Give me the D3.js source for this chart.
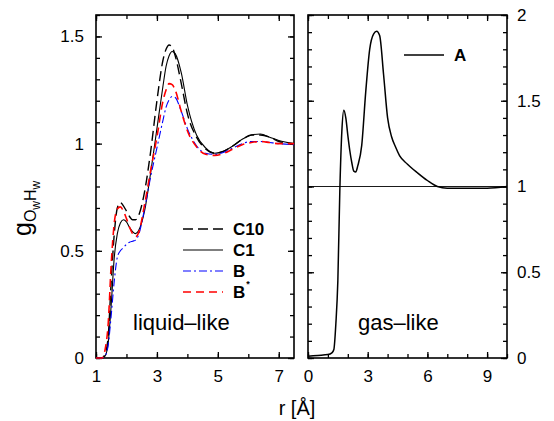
<!DOCTYPE html>
<html>
<head>
<meta charset="utf-8">
<script src="https://cdn.jsdelivr.net/npm/d3@7"></script>
<style>
  body { margin: 0; background: #fff; }
  svg text { font-family: "Liberation Sans", Arial, sans-serif; fill: #000; }
</style>
</head>
<body>
<div id="chart"></div>
<script>
// left panel: shared r grid and series
const rLiquid = [1.0, 1.2, 1.3, 1.4, 1.5, 1.6, 1.7, 1.8, 1.9, 2.0, 2.1, 2.2, 2.3, 2.4, 2.6, 2.8, 3.0, 3.2, 3.3, 3.4,
  3.5, 3.6, 3.8, 4.0, 4.3, 4.6, 4.9, 5.2, 5.5, 5.8, 6.1, 6.4, 6.7, 7.0, 7.5];
const gC10 = [0, 0, 0.02, 0.10, 0.36, 0.58, 0.70, 0.725, 0.71, 0.685, 0.66, 0.645, 0.645, 0.665, 0.78, 0.97, 1.20, 1.39, 1.44, 1.46,
  1.45, 1.41, 1.28, 1.14, 1.03, 0.975, 0.955, 0.965, 0.99, 1.02, 1.04, 1.04, 1.03, 1.01, 1.0];
const gC1 = [0, 0, 0.01, 0.07, 0.25, 0.47, 0.58, 0.63, 0.645, 0.635, 0.61, 0.59, 0.58, 0.595, 0.69, 0.87, 1.07, 1.27, 1.36, 1.41,
  1.43, 1.42, 1.33, 1.18, 1.04, 0.98, 0.955, 0.965, 0.99, 1.02, 1.04, 1.045, 1.03, 1.015, 1.0];
const gB = [0, 0, 0.01, 0.06, 0.20, 0.36, 0.47, 0.50, 0.515, 0.53, 0.54, 0.545, 0.55, 0.575, 0.70, 0.85, 0.98, 1.11, 1.17, 1.205,
  1.22, 1.215, 1.15, 1.07, 0.99, 0.955, 0.95, 0.96, 0.98, 1.0, 1.01, 1.01, 1.005, 1.0, 0.995];
const gBstar = [0, 0, 0.04, 0.16, 0.44, 0.63, 0.695, 0.705, 0.685, 0.65, 0.61, 0.58, 0.565, 0.585, 0.72, 0.88, 1.03, 1.20, 1.25, 1.28,
  1.275, 1.25, 1.15, 1.06, 0.985, 0.95, 0.945, 0.955, 0.975, 0.995, 1.005, 1.01, 1.005, 1.0, 1.0];

// right panel
const rGas = [0, 0.5, 1.0, 1.2, 1.3, 1.4, 1.5, 1.6, 1.7, 1.8, 1.9, 2.0, 2.1, 2.2, 2.3, 2.4, 2.5, 2.7, 2.9, 3.1,
  3.3, 3.45, 3.6, 3.8, 4.0, 4.2, 4.4, 4.6, 5.0, 5.5, 6.0, 6.5, 7.0, 8.0, 9.0, 10];
const gA = [0.01, 0.015, 0.02, 0.03, 0.05, 0.20, 0.45, 0.98, 1.32, 1.445, 1.40, 1.30, 1.21, 1.14, 1.09, 1.085, 1.12, 1.24, 1.55, 1.80,
  1.89, 1.905, 1.88, 1.65, 1.40, 1.29, 1.23, 1.18, 1.13, 1.08, 1.035, 1.0, 0.99, 0.99, 0.99, 1.0];

const xTicksL = [1, 3, 5, 7];
const yTicksL = [0, 0.5, 1, 1.5];
const xTicksR = [0, 3, 6, 9];
const yTicksR = [0, 0.5, 1, 1.5, 2];

const liquidSeries = [
  { name: "C10", g: gC10, color: "#000", dash: "10,5", width: 1.4 },
  { name: "C1", g: gC1, color: "#000", dash: null, width: 1.1 },
  { name: "B", g: gB, color: "#0000ff", dash: "8,3,2,3", width: 1.1 },
  { name: "B", sup: "*", g: gBstar, color: "#ff0000", dash: "8,5", width: 1.6 }
];

const W = 554, H = 421;
const svg = d3.select("#chart").append("svg").attr("width", W).attr("height", H);

const xL = d3.scaleLinear().domain([1, 7.5]).range([96, 294]);
const yL = d3.scaleLinear().domain([0, 1.6]).range([358, 15]);
const xR = d3.scaleLinear().domain([0, 10]).range([308, 507]);
const yR = d3.scaleLinear().domain([0, 2]).range([358, 15]);

// draws inward ticks on all four sides of a panel
function frame(x, y, xMajor, yMajor, yLabelsRight) {
  const [x0, x1] = x.range(), [y0, y1] = y.range();
  const xMinor = d3.range(Math.ceil(x.domain()[0]), x.domain()[1] + 1e-9, 1);
  const yMinor = d3.range(0, y.domain()[1] + 1e-9, 0.1);
  const fmt = d => String(d);

  const ax = (axis, tr) => svg.append("g").attr("transform", tr).call(axis)
    .call(g => g.select(".domain").remove())
    .call(g => g.selectAll("line").attr("stroke", "#000").attr("stroke-width", 1.3))
    .call(g => g.selectAll("text").style("font-size", "17px").attr("fill", "#000"));

  // minor
  ax(d3.axisBottom(x).tickValues(xMinor).tickSize(-4).tickFormat(""), `translate(0,${y0})`);
  ax(d3.axisTop(x).tickValues(xMinor).tickSize(-4).tickFormat(""), `translate(0,${y1})`);
  ax(d3.axisLeft(y).tickValues(yMinor).tickSize(-4).tickFormat(""), `translate(${x0},0)`);
  ax(d3.axisRight(y).tickValues(yMinor).tickSize(-4).tickFormat(""), `translate(${x1},0)`);
  // major
  ax(d3.axisBottom(x).tickValues(xMajor).tickSize(-6).tickPadding(12).tickFormat(fmt), `translate(0,${y0})`);
  ax(d3.axisTop(x).tickValues(xMajor).tickSize(-6).tickFormat(""), `translate(0,${y1})`);
  ax(d3.axisLeft(y).tickValues(yMajor).tickSize(-6).tickPadding(12)
    .tickFormat(yLabelsRight ? "" : fmt), `translate(${x0},0)`);
  ax(d3.axisRight(y).tickValues(yMajor).tickSize(-6).tickPadding(10)
    .tickFormat(yLabelsRight ? fmt : ""), `translate(${x1},0)`);

  svg.append("rect").attr("x", x0).attr("y", y1).attr("width", x1 - x0).attr("height", y0 - y1)
    .attr("fill", "none").attr("stroke", "#000").attr("stroke-width", 1.6);
}

frame(xL, yL, xTicksL, yTicksL, false);
frame(xR, yR, xTicksR, yTicksR, true);

// left panel curves
liquidSeries.forEach(s => {
  const line = d3.line().x((d, i) => xL(rLiquid[i])).y(d => yL(d)).curve(d3.curveMonotoneX);
  svg.append("path").datum(s.g).attr("d", line)
    .attr("fill", "none").attr("stroke", s.color).attr("stroke-width", s.width)
    .attr("stroke-dasharray", s.dash);
});

// legend (left)
const legY = [229, 250, 271, 292];
liquidSeries.forEach((s, i) => {
  svg.append("line").attr("x1", 183).attr("x2", 223).attr("y1", legY[i]).attr("y2", legY[i])
    .attr("stroke", s.color).attr("stroke-width", s.width).attr("stroke-dasharray", s.dash);
  const t = svg.append("text").attr("x", 233).attr("y", legY[i] + 6)
    .style("font-size", "17px").style("font-weight", "bold").text(s.name);
  if (s.sup) t.append("tspan").attr("dy", -11).attr("dx", 1).style("font-size", "9px").text(s.sup);
});

// right panel
svg.append("line").attr("x1", xR(0)).attr("x2", xR(10)).attr("y1", yR(1)).attr("y2", yR(1))
  .attr("stroke", "#000").attr("stroke-width", 0.9);

const lineA = d3.line().x((d, i) => xR(rGas[i])).y(d => yR(d)).curve(d3.curveMonotoneX);
svg.append("path").datum(gA).attr("d", lineA)
  .attr("fill", "none").attr("stroke", "#000").attr("stroke-width", 1.5);

svg.append("line").attr("x1", 404).attr("x2", 444).attr("y1", 55).attr("y2", 55)
  .attr("stroke", "#000").attr("stroke-width", 1.3);
svg.append("text").attr("x", 454).attr("y", 61)
  .style("font-size", "17px").style("font-weight", "bold").text("A");

// panel captions
svg.append("text").attr("x", 133).attr("y", 330).style("font-size", "22px").text("liquid\u2013like");
svg.append("text").attr("x", 358).attr("y", 330).style("font-size", "22px").text("gas\u2013like");

// axis titles
svg.append("text").attr("x", 297).attr("y", 415).attr("text-anchor", "middle")
  .style("font-size", "20px").text("r [\u00c5]");

const yl = svg.append("text").attr("transform", "translate(31,236) rotate(-90)").style("font-size", "25px");
yl.append("tspan").text("g");
yl.append("tspan").attr("dy", 5).style("font-size", "16px").text("O");
yl.append("tspan").attr("dy", 4).style("font-size", "12px").text("w");
yl.append("tspan").attr("dy", -4).style("font-size", "16px").text("H");
yl.append("tspan").attr("dy", 4).style("font-size", "12px").text("w");
</script>
</body>
</html>
